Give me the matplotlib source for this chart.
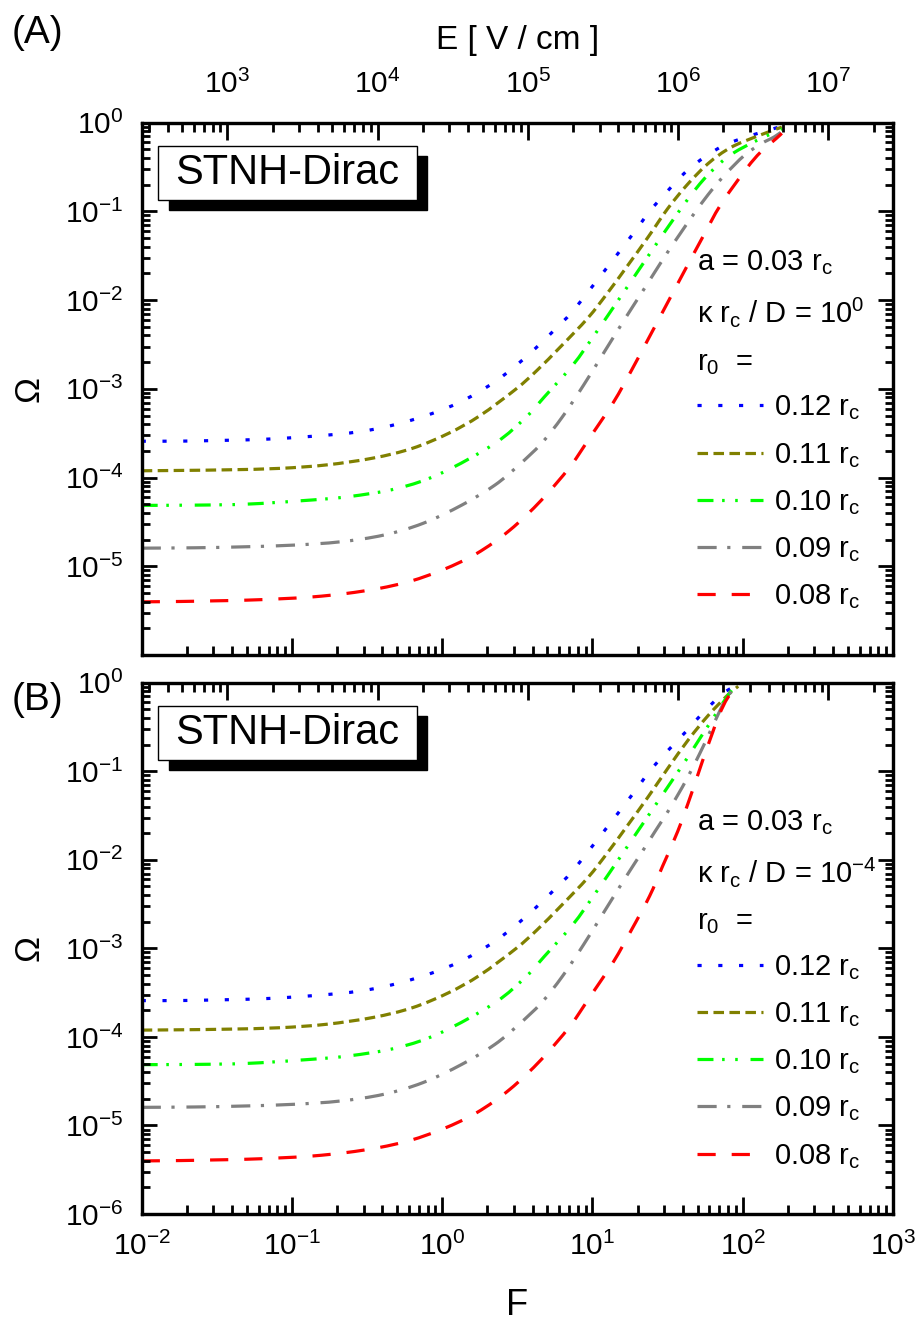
import matplotlib
matplotlib.use('Agg')
import matplotlib.pyplot as plt
import numpy as np
from matplotlib.ticker import LogLocator, NullFormatter, FixedLocator, FixedFormatter
from matplotlib.patches import Rectangle, PathPatch
from matplotlib.path import Path
from matplotlib.lines import Line2D

plt.rcParams['font.family'] = ['Liberation Sans', 'DejaVu Sans']
plt.rcParams['mathtext.fontset'] = 'custom'
plt.rcParams['mathtext.rm'] = 'Liberation Sans'
plt.rcParams['mathtext.it'] = 'Liberation Sans:italic'
plt.rcParams['mathtext.bf'] = 'Liberation Sans:bold'

# top axis: E [V/cm] = F * E_PER_F
E_PER_F = 10 ** 4.43

# ---- data (log10 F, log10 Omega) ----
# low-field part is the same in both panels, tails differ (A: kappa rc/D = 1, B: 1e-4)
logF_blue = [-2, -1.74, -1.48, -1.21, -0.95, -0.69, -0.56, -0.43, -0.30, -0.17, -0.035,
             0.10, 0.227, 0.36, 0.489, 0.62, 0.751, 0.87, 1.08, 1.28, 1.38, 1.50, 1.62]
logW_blue = [-3.59, -3.589, -3.581, -3.57, -3.545, -3.51, -3.484, -3.448, -3.397, -3.335,
             -3.258, -3.164, -3.051, -2.909, -2.74, -2.544, -2.329, -2.12, -1.67, -1.23,
             -1.00, -0.77, -0.556]
logF_blue_A = [1.75, 1.88, 2.01, 2.14, 2.26]
logW_blue_A = [-0.383, -0.251, -0.169, -0.101, -0.04]
logF_blue_B = [1.74, 1.87, 1.95]
logW_blue_B = [-0.33, -0.12, -0.04]

logF_olive = [-2, -1.73, -1.42, -1.08, -0.77, -0.46, -0.20, 0.04, 0.25, 0.49, 0.63,
              0.79, 0.97, 1.10, 1.23, 1.37, 1.50]
logW_olive = [-3.923, -3.919, -3.912, -3.896, -3.857, -3.78, -3.671, -3.503, -3.303,
              -3.003, -2.793, -2.521, -2.20, -1.92, -1.62, -1.29, -0.97]
logF_olive_A = [1.63, 1.77, 1.92, 2.10, 2.26]
logW_olive_A = [-0.70, -0.46, -0.28, -0.15, -0.05]
logF_olive_B = [1.64, 1.77, 1.90, 1.97]
logW_olive_B = [-0.64, -0.37, -0.14, -0.04]

logF_green = [-2, -1.63, -1.30, -0.94, -0.63, -0.30, -0.01, 0.35, 0.56, 0.68, 0.87,
              1.01, 1.18, 1.28, 1.42]
logW_green = [-4.313, -4.31, -4.299, -4.261, -4.216, -4.122, -3.953, -3.615, -3.315,
              -3.09, -2.73, -2.40, -1.98, -1.73, -1.38]
logF_green_A = [1.53, 1.64, 1.74, 1.84, 1.94, 2.07, 2.17, 2.26]
logW_green_A = [-1.11, -0.85, -0.64, -0.47, -0.34, -0.22, -0.14, -0.07]
logF_green_B = [1.555, 1.644, 1.722, 1.811, 1.867, 1.944]
logW_green_B = [-1.042, -0.817, -0.61, -0.38, -0.23, -0.04]

logF_gray = [-2, -1.65, -1.32, -0.99, -0.68, -0.39, -0.13, 0.13, 0.35, 0.51, 0.66,
             0.80, 0.94, 1.08, 1.22, 1.33, 1.42, 1.50]
logW_gray = [-4.795, -4.791, -4.78, -4.761, -4.724, -4.648, -4.517, -4.31, -4.085,
             -3.859, -3.615, -3.315, -2.96, -2.58, -2.20, -1.91, -1.67, -1.46]
logF_gray_A = [1.58, 1.67, 1.77, 1.88, 2.01, 2.12, 2.21, 2.26]
logW_gray_A = [-1.26, -1.04, -0.81, -0.59, -0.37, -0.24, -0.16, -0.1]
logF_gray_B = [1.567, 1.633, 1.711, 1.767, 1.833, 1.889, 1.955]
logW_gray_B = [-1.27, -1.07, -0.81, -0.61, -0.37, -0.18, -0.04]

logF_red = [-2, -1.74, -1.52, -1.30, -1.08, -0.86, -0.64, -0.42, -0.21, 0.01, 0.23,
            0.45, 0.66, 0.85, 0.99, 1.14, 1.26, 1.38]
logW_red = [-5.40, -5.396, -5.389, -5.381, -5.366, -5.344, -5.306, -5.249, -5.167, -5.035,
            -4.855, -4.592, -4.254, -3.878, -3.53, -3.15, -2.79, -2.41]
logF_red_A = [1.49, 1.60, 1.727, 1.855, 2.024, 2.12, 2.222, 2.26]
logW_red_A = [-2.06, -1.71, -1.31, -0.92, -0.52, -0.33, -0.18, -0.12]
logF_red_B = [1.467, 1.567, 1.655, 1.733, 1.80, 1.844, 1.90, 1.967]
logW_red_B = [-2.07, -1.68, -1.27, -0.88, -0.56, -0.36, -0.17, -0.045]

r0_labels = ['0.12', '0.11', '0.10', '0.09', '0.08']
kappa_exp = ['0', '-4']
panel_tags = ['(A)', '(B)']

x_ticks = [1e-2, 1e-1, 1e0, 1e1, 1e2, 1e3]
x_ticklabels = ['$\\mathregular{10^{-2}}$', '$\\mathregular{10^{-1}}$', '$\\mathregular{10^{0}}$',
                '$\\mathregular{10^{1}}$', '$\\mathregular{10^{2}}$', '$\\mathregular{10^{3}}$']
y_ticks = [1e-6, 1e-5, 1e-4, 1e-3, 1e-2, 1e-1, 1e0]
y_ticklabels = ['$\\mathregular{10^{-6}}$', '$\\mathregular{10^{-5}}$', '$\\mathregular{10^{-4}}$',
                '$\\mathregular{10^{-3}}$', '$\\mathregular{10^{-2}}$', '$\\mathregular{10^{-1}}$',
                '$\\mathregular{10^{0}}$']
e_ticks = [1e3, 1e4, 1e5, 1e6, 1e7]
e_ticklabels = ['$\\mathregular{10^{3}}$', '$\\mathregular{10^{4}}$', '$\\mathregular{10^{5}}$',
                '$\\mathregular{10^{6}}$', '$\\mathregular{10^{7}}$']

# styles
colors = ['#0000ff', '#808000', '#00ff00', '#808080', '#ff0000']
dashes = [(1.3, 5.2), (3.3, 1.7), (5, 2.7, 0.8, 3.3, 0.8, 4), (6, 3.3, 1, 3.7), (5.7, 5)]
LW = 2.3
TICK_FS = 21.5
TXT_FS = 21

common = [(logF_blue, logW_blue), (logF_olive, logW_olive), (logF_green, logW_green),
          (logF_gray, logW_gray), (logF_red, logW_red)]
tails = {
    'A': [(logF_blue_A, logW_blue_A), (logF_olive_A, logW_olive_A), (logF_green_A, logW_green_A),
          (logF_gray_A, logW_gray_A), (logF_red_A, logW_red_A)],
    'B': [(logF_blue_B, logW_blue_B), (logF_olive_B, logW_olive_B), (logF_green_B, logW_green_B),
          (logF_gray_B, logW_gray_B), (logF_red_B, logW_red_B)],
}


def smooth_path(lx, ly):
    # smooth curve through the read points (Catmull-Rom as cubic Bezier, in log space)
    P = np.column_stack([lx, ly]).astype(float)
    n = len(P)
    verts = [P[0]]
    codes = [Path.MOVETO]
    for i in range(n - 1):
        p0 = P[i - 1] if i > 0 else P[i]
        p1, p2 = P[i], P[i + 1]
        p3 = P[i + 2] if i + 2 < n else P[i + 1]
        verts += [p1 + (p2 - p0) / 6, p2 - (p3 - p1) / 6, p2]
        codes += [Path.CURVE4] * 3
    return Path(10 ** np.array(verts), codes)


fig = plt.figure(figsize=(9.19, 13.29), dpi=100)
axA = fig.add_axes([0.1542, 0.5071, 0.8175, 0.4006])
axB = fig.add_axes([0.1542, 0.0865, 0.8175, 0.3998])


def draw_panel(ax, key, kexp, tag_y, tag, bottom_labels, top_labels):
    handles = []
    for (fc, wc), (ft, wt), c, d in zip(common, tails[key], colors, dashes):
        ax.add_patch(PathPatch(smooth_path(fc + ft, wc + wt), fill=False, edgecolor=c,
                               lw=LW, linestyle=(0, d), capstyle='butt'))
        handles.append(Line2D([], [], color=c, lw=LW, dashes=d))
    ax.set_xscale('log')
    ax.set_yscale('log')
    ax.set_xlim(1e-2, 1e3)
    ax.set_ylim(1e-6, 1e0)
    for s in ax.spines.values():
        s.set_linewidth(2.3)

    ax.xaxis.set_major_locator(FixedLocator(x_ticks))
    ax.xaxis.set_minor_locator(LogLocator(base=10, subs=np.arange(2, 10), numticks=20))
    ax.xaxis.set_minor_formatter(NullFormatter())
    ax.yaxis.set_major_locator(FixedLocator(y_ticks))
    ax.yaxis.set_minor_locator(LogLocator(base=10, subs=np.arange(2, 10), numticks=20))
    ax.yaxis.set_minor_formatter(NullFormatter())
    ylabs = list(y_ticklabels)
    if not bottom_labels:
        ylabs[0] = ''
    ax.yaxis.set_major_formatter(FixedFormatter(ylabs))
    if bottom_labels:
        ax.xaxis.set_major_formatter(FixedFormatter(x_ticklabels))
    else:
        ax.xaxis.set_major_formatter(NullFormatter())
    ax.tick_params(which='major', direction='in', length=11, width=2, labelsize=TICK_FS)
    ax.tick_params(which='minor', direction='in', length=5.5, width=2)
    ax.tick_params(axis='both', which='both', top=False, right=True)
    ax.tick_params(axis='x', which='major', length=12, pad=13)
    ax.tick_params(axis='x', which='minor', length=6.5)
    ax.tick_params(axis='y', which='major', pad=13)
    ax.set_ylabel('Ω', fontsize=25)
    ax.yaxis.set_label_coords(-0.128, 0.5)

    # top E axis
    ax2 = ax.twiny()
    ax2.set_xscale('log')
    ax2.set_xlim(1e-2 * E_PER_F, 1e3 * E_PER_F)
    ax2.xaxis.set_major_locator(FixedLocator(e_ticks))
    ax2.xaxis.set_minor_locator(LogLocator(base=10, subs=np.arange(2, 10), numticks=20))
    ax2.xaxis.set_minor_formatter(NullFormatter())
    if top_labels:
        ax2.xaxis.set_major_formatter(FixedFormatter(e_ticklabels))
        ax2.set_xlabel('E [ V / cm ]', fontsize=24, labelpad=15)
    else:
        ax2.xaxis.set_major_formatter(NullFormatter())
    ax2.tick_params(which='major', direction='in', length=12, width=2, labelsize=TICK_FS, pad=17)
    ax2.tick_params(which='minor', direction='in', length=6.5, width=2)
    for s in ax2.spines.values():
        s.set_linewidth(2.3)

    # STNH-Dirac box with shadow
    ax.add_patch(Rectangle((0.0363, 0.836), 0.3434, 0.102, transform=ax.transAxes,
                           facecolor='black', edgecolor='black', zorder=5))
    ax.add_patch(Rectangle((0.0217, 0.8548), 0.3447, 0.102, transform=ax.transAxes,
                           facecolor='white', edgecolor='black', lw=1, zorder=6))
    ax.text(0.194, 0.9058, 'STNH-Dirac', transform=ax.transAxes, fontsize=30,
            ha='center', va='center', zorder=7)

    # parameter text
    ax.text(0.739, 0.722, 'a = 0.03 r$_\\mathregular{c}$', transform=ax.transAxes,
            fontsize=TXT_FS, va='baseline')
    ax.text(0.739, 0.6245, 'κ r$_\\mathregular{c}$ / D = 10$^\\mathregular{%s}$' % kexp,
            transform=ax.transAxes, fontsize=TXT_FS, va='baseline')
    ax.text(0.739, 0.5354, 'r$_\\mathregular{0}$  =', transform=ax.transAxes,
            fontsize=TXT_FS, va='baseline')

    ax.legend(handles, ['%s r$_\\mathregular{c}$' % s for s in r0_labels],
              loc='upper left', bbox_to_anchor=(0.739, 0.491), frameon=False,
              fontsize=TXT_FS, handlelength=2.25, handletextpad=0.38, labelspacing=0.63,
              borderpad=0, borderaxespad=0)

    fig.text(12 / 919, tag_y, tag, fontsize=28, va='center', ha='left')
    return ax2


draw_panel(axA, 'A', kappa_exp[0], 1 - 33 / 1329, panel_tags[0], False, True)
draw_panel(axB, 'B', kappa_exp[1], 1 - 700 / 1329, panel_tags[1], True, False)
axB.set_xlabel('F', fontsize=26, labelpad=19)

fig.savefig('out.png', dpi=100)
